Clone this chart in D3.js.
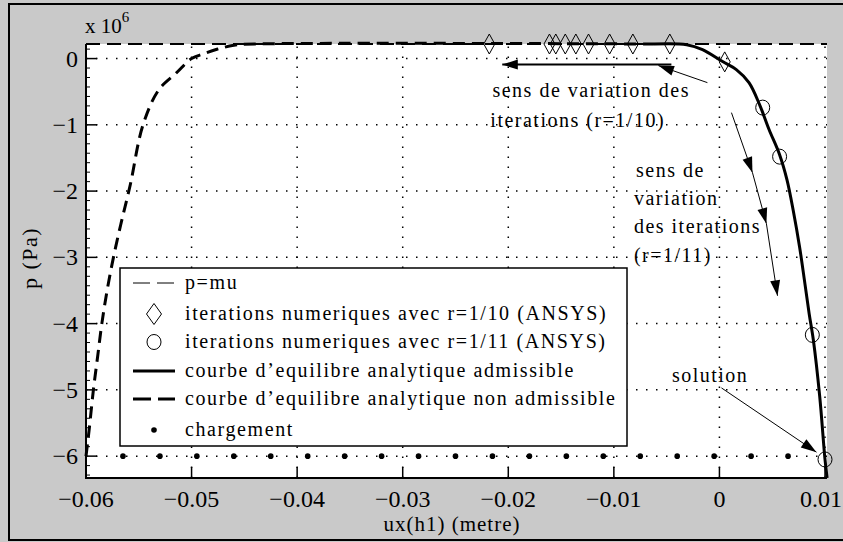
<!DOCTYPE html>
<html>
<head>
<meta charset="utf-8">
<script src="https://cdn.jsdelivr.net/npm/d3@7"></script>
<style>
  body { margin: 0; background: #c9c9c9; }
  svg { display: block; }
</style>
</head>
<body>
<svg id="chart" width="843" height="542"></svg>
<script>
// abscisse ux(h1) en metre, pression p en 1e6 Pa
const xTicks = [-0.06, -0.05, -0.04, -0.03, -0.02, -0.01, 0, 0.01];
const xTickLabels = ['\u22120.06', '\u22120.05', '\u22120.04', '\u22120.03', '\u22120.02', '\u22120.01', '0', '0.01'];
const yTicks = [0, -1, -2, -3, -4, -5, -6];
const yTickLabels = ['0', '\u22121', '\u22122', '\u22123', '\u22124', '\u22125', '\u22126'];

const pMu = 0.22;      // p = mu
const pLoad = -6;      // niveau du chargement

// courbe d'equilibre analytique admissible
const admX = [-0.0062, -0.0031, -0.0016, 0.0003, 0.0016, 0.0028, 0.0038, 0.0047, 0.0057, 0.0064, 0.0070, 0.0076, 0.0081, 0.0085, 0.0089, 0.0095, 0.0100, 0.0102];
const admP = [0.22, 0.21, 0.136, -0.045, -0.166, -0.363, -0.695, -1.07, -1.45, -1.83, -2.30, -2.85, -3.40, -3.85, -4.25, -5.10, -6.05, -6.33];

// courbe d'equilibre analytique non admissible
const nadmX = [-0.0600, -0.0597, -0.0593, -0.0589, -0.0585, -0.0580, -0.0574, -0.0567, -0.0558, -0.0546, -0.0531, -0.0514, -0.0500, -0.0489, -0.0476, -0.0460, -0.0440, -0.0062];
const nadmP = [-6.0, -5.6, -5.0, -4.5, -4.0, -3.5, -3.0, -2.5, -1.9, -1.0, -0.47, -0.21, 0.0, 0.07, 0.14, 0.20, 0.22, 0.22];

// iterations numeriques r=1/10 (ANSYS)
const it10X = [-0.0218, -0.0161, -0.0155, -0.0146, -0.0136, -0.0124, -0.0104, -0.0082, -0.0047, 0.0005];
const it10P = [0.22, 0.22, 0.22, 0.22, 0.22, 0.22, 0.22, 0.22, 0.22, -0.05];

// iterations numeriques r=1/11 (ANSYS)
const it11X = [0.0041, 0.0057, 0.0088, 0.0100];
const it11P = [-0.74, -1.48, -4.17, -6.05];

// chargement
const loadX = [-0.0565, -0.053, -0.0495, -0.046, -0.0425, -0.039, -0.0355, -0.032, -0.0285, -0.025, -0.0215, -0.018, -0.0145, -0.011, -0.0075, -0.004, -0.0005, 0.003, 0.0065];

const legendLabels = [
  'p=mu',
  'iterations numeriques avec r=1/10 (ANSYS)',
  'iterations numeriques avec r=1/11 (ANSYS)',
  'courbe d\u2019equilibre analytique admissible',
  'courbe d\u2019equilibre analytique non admissible',
  'chargement'
];

// annotations (coordonnees donnees)
const notes = [
  {text: 'sens de variation des', x: -0.0215, p: -0.574},
  {text: 'iterations (r=1/10)', x: -0.0217, p: -1.027},
  {text: 'sens de', x: -0.0079, p: -1.782},
  {text: 'variation', x: -0.0081, p: -2.205},
  {text: 'des iterations', x: -0.0081, p: -2.628},
  {text: '(r=1/11)', x: -0.0081, p: -3.066},
  {text: 'solution', x: -0.0045, p: -4.879}
];
const arrows = [
  {x1: -0.00455, p1: -0.091, x2: -0.02057, p2: -0.091, w: 2},
  {x1: -0.00114, p1: -0.363, x2: -0.00578, p2: -0.106, w: 1},
  {x1: 0.00114, p1: -0.816, x2: 0.00313, p2: -1.722, w: 1},
  {x1: 0.00313, p1: -1.722, x2: 0.00445, p2: -2.492, w: 1},
  {x1: 0.00445, p1: -2.492, x2: 0.0055, p2: -3.58, w: 1},
  {x1: 0.00019, p1: -4.97, x2: 0.00919, p2: -5.94, w: 1}
];

const FONT = '"Liberation Serif", "Times New Roman", serif';
const svg = d3.select('#chart');
const x = d3.scaleLinear().domain([-0.06, 0.01]).range([86, 825]);
const y = d3.scaleLinear().domain([-6.33, pMu]).range([478, 44]);

// fond et cadre
svg.append('rect').attr('width', 843).attr('height', 542).attr('fill', '#c9c9c9');
svg.append('rect').attr('x', 9).attr('y', 4).attr('width', 845).attr('height', 536)
  .attr('fill', 'none').attr('stroke', '#000').attr('stroke-width', 2);
svg.append('rect').attr('x', 86).attr('y', 44).attr('width', 741).attr('height', 434).attr('fill', '#fff');

svg.append('defs').append('marker')
  .attr('id', 'head')
  .attr('markerUnits', 'userSpaceOnUse')
  .attr('markerWidth', 20).attr('markerHeight', 20)
  .attr('viewBox', '-16 -8 18 16')
  .attr('refX', 0).attr('refY', 0)
  .attr('orient', 'auto')
  .append('path').attr('d', 'M0,0L-14,-4.5L-14,4.5Z').attr('fill', '#000');

// grille pointillee
const grid = svg.append('g').attr('stroke', '#000').attr('stroke-width', 1.5).attr('stroke-dasharray', '1.5,8.5');
grid.selectAll('.gx').data(xTicks.slice(1)).join('line')
  .attr('x1', d => x(d)).attr('x2', d => x(d)).attr('y1', 478).attr('y2', 44);
grid.selectAll('.gy').data(yTicks).join('line')
  .attr('y1', d => y(d)).attr('y2', d => y(d)).attr('x1', 86).attr('x2', 827);

// p = mu
svg.append('line')
  .attr('x1', x(-0.06)).attr('x2', 827).attr('y1', y(pMu)).attr('y2', y(pMu))
  .attr('stroke', '#000').attr('stroke-width', 2).attr('stroke-dasharray', '14,7');

const line = d3.line().x(d => x(d[0])).y(d => y(d[1])).curve(d3.curveCatmullRom.alpha(0.5));

svg.append('path')
  .attr('d', line(nadmX.map((v, i) => [v, nadmP[i]])))
  .attr('fill', 'none').attr('stroke', '#000').attr('stroke-width', 3)
  .attr('stroke-dasharray', '12,7');

svg.append('path')
  .attr('d', line(admX.map((v, i) => [v, admP[i]])))
  .attr('fill', 'none').attr('stroke', '#000').attr('stroke-width', 3);

// chargement
svg.append('g').selectAll('circle').data(loadX).join('circle')
  .attr('cx', d => x(d)).attr('cy', y(pLoad)).attr('r', 2.8).attr('fill', '#000');

// marqueurs des iterations
const diamond = (w, h) => `M0,${-h / 2}L${w / 2},0L0,${h / 2}L${-w / 2},0Z`;
svg.append('g').selectAll('path').data(it10X).join('path')
  .attr('transform', (d, i) => `translate(${x(d)},${y(it10P[i])})`)
  .attr('d', diamond(11, 20))
  .attr('fill', 'none').attr('stroke', '#000').attr('stroke-width', 1);
svg.append('g').selectAll('ellipse').data(it11X).join('ellipse')
  .attr('cx', d => x(d)).attr('cy', (d, i) => y(it11P[i]))
  .attr('rx', 7).attr('ry', 7.5)
  .attr('fill', 'none').attr('stroke', '#000').attr('stroke-width', 1);

// axes
const axes = svg.append('g').attr('stroke', '#000');
axes.append('line').attr('x1', 86).attr('x2', 86).attr('y1', 44).attr('y2', 479).attr('stroke-width', 2);
axes.append('line').attr('x1', 85).attr('x2', 827).attr('y1', 478).attr('y2', 478).attr('stroke-width', 2);
axes.selectAll('.tx').data(xTicks).join('line')
  .attr('x1', d => x(d)).attr('x2', d => x(d)).attr('y1', 478).attr('y2', 467).attr('stroke-width', 1.5);
axes.selectAll('.ty').data(yTicks).join('line')
  .attr('x1', 86).attr('x2', 97).attr('y1', d => y(d)).attr('y2', d => y(d)).attr('stroke-width', 1.5);
const minor = d3.range(-44, 2).map(k => k / 7).filter(v => v > -6.33 && v < pMu && Math.abs(v - Math.round(v)) > 0.01);
axes.selectAll('.tm').data(minor).join('line')
  .attr('x1', 86).attr('x2', 90).attr('y1', d => y(d)).attr('y2', d => y(d)).attr('stroke-width', 1);

const last = xTicks.length - 1;
svg.append('g').attr('font-size', 24)
  .selectAll('text').data(xTicks).join('text')
  .attr('x', (d, i) => i === last ? 842 : x(d)).attr('y', 507)
  .attr('text-anchor', (d, i) => i === last ? 'end' : 'middle')
  .text((d, i) => xTickLabels[i]);
svg.append('g').attr('font-size', 24).attr('text-anchor', 'end')
  .selectAll('text').data(yTicks).join('text')
  .attr('x', 78).attr('y', d => y(d) + 8)
  .text((d, i) => yTickLabels[i]);

const expo = svg.append('text').attr('x', 85).attr('y', 33).attr('font-size', 21);
expo.append('tspan').text('x 10');
expo.append('tspan').attr('font-size', 15).attr('dy', -11).text('6');

svg.append('text').attr('x', 452).attr('y', 531).attr('font-size', 21)
  .attr('text-anchor', 'middle').attr('letter-spacing', 1).text('ux(h1) (metre)');
svg.append('text').attr('transform', 'translate(37,258) rotate(-90)').attr('font-size', 22)
  .attr('text-anchor', 'middle').attr('letter-spacing', 1.5).text('p (Pa)');

// legende
const leg = svg.append('g');
leg.append('rect').attr('x', 120).attr('y', 268).attr('width', 507).attr('height', 178)
  .attr('fill', '#fff').attr('stroke', '#000').attr('stroke-width', 1.5);
const rowY = [283, 314, 342, 371, 399, 430];
leg.append('line').attr('x1', 133).attr('x2', 175).attr('y1', rowY[0]).attr('y2', rowY[0])
  .attr('stroke', '#000').attr('stroke-width', 1).attr('stroke-dasharray', '17,7');
leg.append('path').attr('transform', `translate(154,${rowY[1]})`).attr('d', diamond(15, 21))
  .attr('fill', 'none').attr('stroke', '#000');
leg.append('ellipse').attr('cx', 154).attr('cy', rowY[2]).attr('rx', 7).attr('ry', 7.5)
  .attr('fill', 'none').attr('stroke', '#000');
leg.append('line').attr('x1', 133).attr('x2', 175).attr('y1', rowY[3]).attr('y2', rowY[3])
  .attr('stroke', '#000').attr('stroke-width', 3);
leg.append('line').attr('x1', 133).attr('x2', 175).attr('y1', rowY[4]).attr('y2', rowY[4])
  .attr('stroke', '#000').attr('stroke-width', 3).attr('stroke-dasharray', '18,7');
leg.append('circle').attr('cx', 154).attr('cy', rowY[5]).attr('r', 2.8).attr('fill', '#000');
leg.selectAll('text').data(legendLabels).join('text')
  .attr('x', 185).attr('y', (d, i) => rowY[i] + 6)
  .attr('font-size', 20).attr('letter-spacing', 1.6)
  .text(d => d);

// annotations
svg.append('g').selectAll('line').data(arrows).join('line')
  .attr('x1', d => x(d.x1)).attr('y1', d => y(d.p1))
  .attr('x2', d => x(d.x2)).attr('y2', d => y(d.p2))
  .attr('stroke', '#000').attr('stroke-width', d => d.w)
  .attr('marker-end', 'url(#head)');
svg.append('g').selectAll('text').data(notes).join('text')
  .attr('x', d => x(d.x)).attr('y', d => y(d.p))
  .attr('font-size', 20).attr('letter-spacing', 1.5)
  .text(d => d.text);

// police appliquee a chaque texte
svg.selectAll('text').style('font-family', FONT).attr('fill', '#000');
</script>
</body>
</html>
